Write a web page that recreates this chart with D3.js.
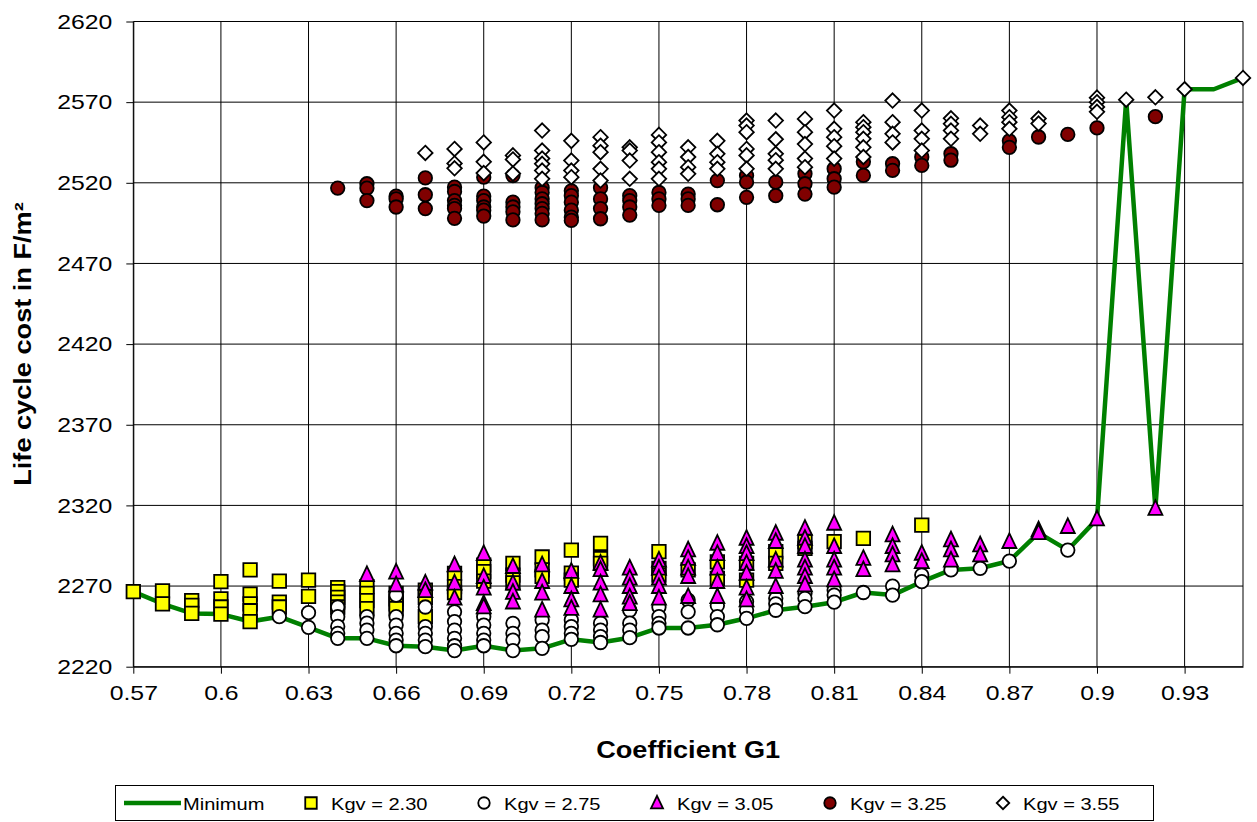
<!DOCTYPE html>
<html>
<head>
<meta charset="utf-8">
<script src="https://cdn.jsdelivr.net/npm/d3@7"></script>
<style>
  html, body { margin: 0; padding: 0; background: #fff; }
  svg { display: block; font-family: "Liberation Sans", Arial, sans-serif; }
</style>
</head>
<body>
<svg id="chart" width="1257" height="822"></svg>
<script>
// Tick values and labels
const xTicks = [0.57, 0.60, 0.63, 0.66, 0.69, 0.72, 0.75, 0.78, 0.81, 0.84, 0.87, 0.90, 0.93];
const xTickLabels = ["0.57", "0.6", "0.63", "0.66", "0.69", "0.72", "0.75", "0.78", "0.81", "0.84", "0.87", "0.9", "0.93"];
const yTicks = [2220, 2270, 2320, 2370, 2420, 2470, 2520, 2570, 2620];

// Minimum life cycle cost for each G1
const minG1 = [0.57, 0.58, 0.59, 0.60, 0.61, 0.62, 0.63, 0.64, 0.65, 0.66, 0.67, 0.68, 0.69, 0.70, 0.71, 0.72, 0.73, 0.74, 0.75,
  0.76, 0.77, 0.78, 0.79, 0.80, 0.81, 0.82, 0.83, 0.84, 0.85, 0.86, 0.87, 0.88, 0.89, 0.90, 0.91, 0.92, 0.93, 0.94, 0.95];
const minCost = [2266.5, 2259, 2253, 2252.6, 2248, 2251, 2244.4, 2237.6, 2237.6, 2233, 2232.4, 2230, 2233, 2230, 2231.4, 2237, 2235, 2238, 2244,
  2244, 2246, 2250, 2255, 2257.2, 2260, 2266, 2264.4, 2272.7, 2280, 2281, 2285.5, 2303, 2292.3, 2311.5, 2571.5, 2318, 2578, 2578, 2585];

// Kgv = 2.30 : [G1, costs]
const kgv230 = [
  [0.57, [2266.5]], [0.58, [2267, 2259]], [0.59, [2261, 2258, 2253]], [0.60, [2272.7, 2262, 2257, 2252.6]],
  [0.61, [2280, 2265, 2259, 2254.7, 2248]], [0.62, [2273, 2260, 2257]], [0.63, [2273.7, 2263.6]],
  [0.64, [2269, 2266.5, 2263, 2260, 2257]], [0.65, [2269.6, 2265.5, 2261, 2256]], [0.66, [2265.5, 2262, 2259, 2256]],
  [0.67, [2267.5, 2263, 2251]], [0.68, [2277.8, 2269.6, 2266]], [0.69, [2283, 2279, 2273]], [0.70, [2284, 2276.8, 2272]],
  [0.71, [2288, 2280, 2276]], [0.72, [2292.3, 2278, 2273.7]], [0.73, [2296.4, 2287, 2284]], [0.75, [2291.3, 2281, 2276.8]],
  [0.76, [2280]], [0.77, [2285, 2274.8]], [0.78, [2284, 2273.7]], [0.79, [2291.3, 2284]], [0.80, [2297.5, 2293.3]],
  [0.81, [2297.5]], [0.82, [2299.5]], [0.84, [2307.8]]
];

// Kgv = 2.75
const kgv275 = [
  [0.62, [2251]], [0.63, [2253.5, 2244.4]], [0.64, [2257, 2251, 2245, 2240.7, 2237.6]], [0.65, [2251, 2247, 2242.7, 2237.6]],
  [0.66, [2264.4, 2251, 2245.8, 2240.7, 2236.5, 2233]], [0.67, [2257, 2244.8, 2240.7, 2236.5, 2232.4]],
  [0.68, [2254, 2248, 2242.7, 2237.6, 2233, 2230]], [0.69, [2251, 2245.8, 2240.7, 2236.5, 2233]],
  [0.70, [2246.9, 2240.7, 2236.5, 2230]], [0.71, [2249, 2242.7, 2238.6, 2231.4]], [0.72, [2249, 2244.8, 2240.7, 2237]],
  [0.73, [2247, 2242.7, 2238.6, 2235]], [0.74, [2255, 2247, 2242.7, 2238]], [0.75, [2257, 2251, 2246.9, 2244]],
  [0.76, [2261.3, 2254, 2244]], [0.77, [2258, 2251, 2246]], [0.78, [2260.3, 2255, 2250]], [0.79, [2262.4, 2259, 2255]],
  [0.80, [2265.5, 2262.4, 2257.2]], [0.81, [2267.5, 2264.4, 2260]], [0.82, [2266]], [0.83, [2270, 2264.4]],
  [0.84, [2276.8, 2272.7]], [0.85, [2280]], [0.86, [2281]], [0.87, [2285.5]], [0.89, [2292.3]]
];

// Kgv = 3.05
const kgv305 = [
  [0.65, [2277]], [0.66, [2278.5, 2270.6]], [0.67, [2271.7, 2267]], [0.68, [2283, 2271.7, 2262.4]],
  [0.69, [2290, 2275.8, 2268.6, 2259, 2257]], [0.70, [2282, 2271.7, 2266, 2260]], [0.71, [2283, 2272.7, 2265.5, 2255]],
  [0.72, [2279, 2269.6, 2261.3, 2256]], [0.73, [2284, 2280, 2271.7, 2264.4, 2255]], [0.74, [2281, 2274.8, 2269.6, 2263, 2259]],
  [0.75, [2286, 2281, 2274.8, 2269.6, 2262.4]], [0.76, [2292.3, 2287, 2281, 2275.8, 2263.4]],
  [0.77, [2296.4, 2290, 2281, 2272.7, 2263.4]], [0.78, [2299.5, 2294.4, 2290, 2284, 2277.8, 2268.6, 2261.3]],
  [0.79, [2302.6, 2297.5, 2286, 2279, 2269.6]], [0.80, [2305.7, 2299.5, 2294.4, 2286, 2281, 2275.8, 2270.6]],
  [0.81, [2308.8, 2294.4, 2286, 2281, 2273.7]], [0.82, [2287, 2280]], [0.83, [2301.6, 2294.4, 2289.2, 2283]],
  [0.84, [2290.2, 2285]], [0.85, [2298.5, 2292.3, 2286]], [0.86, [2295.4, 2289.2]], [0.87, [2297.5]],
  [0.88, [2304.7, 2303]], [0.89, [2306.8]], [0.90, [2311.5]], [0.92, [2318]]
];

// Kgv = 3.25
const kgv325 = [
  [0.64, [2516.7]], [0.65, [2519.4, 2516.7, 2509]], [0.66, [2511.7, 2510, 2505]], [0.67, [2523, 2512.6, 2504]],
  [0.68, [2517.3, 2514.6, 2509, 2506, 2504, 2498]], [0.69, [2523.5, 2511.7, 2509, 2505, 2503, 2499.4]],
  [0.70, [2524.5, 2508, 2505, 2502, 2497]], [0.71, [2517, 2514, 2510, 2507, 2504, 2501, 2497]],
  [0.72, [2515, 2512, 2508, 2503, 2498.7, 2496.7]], [0.73, [2517, 2510, 2504, 2497.7]], [0.74, [2512, 2509, 2505, 2500]],
  [0.75, [2514, 2510, 2506]], [0.76, [2513, 2510, 2506]], [0.77, [2521.4, 2506.4]], [0.78, [2524.5, 2520.4, 2511]],
  [0.79, [2520.4, 2512]], [0.80, [2525.6, 2519.4, 2513]], [0.81, [2528.7, 2522.5, 2517.3]], [0.82, [2533, 2524.6]],
  [0.83, [2531.8, 2527.7]], [0.84, [2536, 2530.8]], [0.85, [2538, 2534]], [0.87, [2546, 2542]], [0.88, [2548.4]],
  [0.89, [2550]], [0.90, [2554]], [0.92, [2561]]
];

// Kgv = 3.55
const kgv355 = [
  [0.67, [2538.5]], [0.68, [2541, 2532, 2529]], [0.69, [2545, 2533, 2526]], [0.70, [2537, 2534.5, 2525.7]],
  [0.71, [2552.4, 2540, 2535, 2531.8, 2527.6, 2522.5]], [0.72, [2546, 2533.8, 2527.6, 2523.5]],
  [0.73, [2548.3, 2543, 2539, 2528.7, 2521.4]], [0.74, [2542, 2540, 2533.8, 2522.5]],
  [0.75, [2549.7, 2545, 2539, 2532.8, 2528.7, 2522.5]], [0.76, [2542, 2536, 2529.7, 2525.6]],
  [0.77, [2546, 2538, 2532.8, 2528.7]], [0.78, [2558.6, 2555.5, 2551.4, 2541, 2537, 2528.7]],
  [0.79, [2558.6, 2547, 2538, 2534, 2528.7]], [0.80, [2559.6, 2551.4, 2544, 2535, 2529.7]],
  [0.81, [2564.8, 2553.5, 2548.3, 2542.7, 2535]], [0.82, [2557.6, 2554.5, 2551.4, 2547.3, 2542, 2536]],
  [0.83, [2571, 2557.6, 2550.4, 2545]], [0.84, [2564.8, 2552.4, 2547.3, 2540]], [0.85, [2560, 2556.6, 2552.4, 2547.3]],
  [0.86, [2555.5, 2550.4]], [0.87, [2564.8, 2560.7, 2557.6, 2553.5]], [0.88, [2559.8, 2556.7]],
  [0.90, [2572.8, 2570, 2567, 2564]], [0.91, [2571.5]], [0.92, [2573]], [0.93, [2578]], [0.95, [2585]]
];

// Marker shapes (path generators centred on 0,0)
const shapes = {
  square: s => `M${-s / 2},${-s / 2}h${s}v${s}h${-s}Z`,
  circle: s => { const r = s / 2; return `M${r},0A${r},${r} 0 1,1 ${-r},0A${r},${r} 0 1,1 ${r},0Z`; },
  triangle: s => `M0,${-s * 0.6}L${s / 2},${s * 0.45}L${-s / 2},${s * 0.45}Z`,
  diamond: s => `M0,${-s / 2}L${s / 2},0L0,${s / 2}L${-s / 2},0Z`
};

const series = [
  { name: "Kgv = 2.30", data: kgv230, shape: "square", fill: "#FFFF00", size: 13.5 },
  { name: "Kgv = 2.75", data: kgv275, shape: "circle", fill: "#FFFFFF", size: 13.5 },
  { name: "Kgv = 3.05", data: kgv305, shape: "triangle", fill: "#FF00FF", size: 14 },
  { name: "Kgv = 3.25", data: kgv325, shape: "circle", fill: "#800000", size: 13.5 },
  { name: "Kgv = 3.55", data: kgv355, shape: "diamond", fill: "#FFFFFF", size: 14.5 }
];

// Widen glyphs slightly along the text direction
const WIDEN = 1.18;
function widen(sel) {
  sel.each(function () {
    const len = this.getComputedTextLength();
    d3.select(this).attr("textLength", len * WIDEN).attr("lengthAdjust", "spacingAndGlyphs");
  });
}

const svg = d3.select("#chart");
svg.append("rect").attr("width", 1257).attr("height", 822).attr("fill", "#fff");

const plot = { left: 133.3, right: 1243, top: 21.5, bottom: 666.7 };
const x = d3.scaleLinear().domain([0.57, 0.95]).range([plot.left, plot.right]);
const y = d3.scaleLinear().domain([2220, 2620]).range([plot.bottom, plot.top]);

// Gridlines
const grid = svg.append("g").attr("stroke", "#000").attr("stroke-width", 1);
yTicks.forEach(v => grid.append("line").attr("x1", plot.left).attr("x2", plot.right).attr("y1", y(v)).attr("y2", y(v)));
xTicks.forEach(v => grid.append("line").attr("y1", plot.top).attr("y2", plot.bottom).attr("x1", x(v)).attr("x2", x(v)));
grid.append("line").attr("y1", plot.top).attr("y2", plot.bottom).attr("x1", plot.right).attr("x2", plot.right);

// Axes
const xAxis = d3.axisBottom(x).tickValues(xTicks).tickFormat((d, i) => xTickLabels[i]).tickSize(7).tickPadding(6).tickSizeOuter(0);
const yAxis = d3.axisLeft(y).tickValues(yTicks).tickFormat(d3.format("d")).tickSize(7).tickPadding(14).tickSizeOuter(0);

const gx = svg.append("g").attr("transform", `translate(0,${plot.bottom})`).call(xAxis);
const gy = svg.append("g").attr("transform", `translate(${plot.left},0)`).call(yAxis);
[gx, gy].forEach(g => {
  g.select(".domain").attr("stroke", "#000").attr("stroke-width", 1);
  g.selectAll(".tick line").attr("stroke", "#000").attr("stroke-width", 1);
  g.selectAll(".tick text").attr("fill", "#000").style("font-size", "21px")
    .style("font-family", "'Liberation Sans', Arial, sans-serif");
  widen(g.selectAll(".tick text"));
});
gx.selectAll(".tick text").attr("dy", "0.95em");

// Axis titles
svg.append("text").attr("x", (plot.left + plot.right) / 2).attr("y", 758)
  .attr("text-anchor", "middle").style("font-size", "23px").style("font-weight", "bold").text("Coefficient G1")
  .call(widen);
svg.append("text").attr("transform", "translate(31,344) rotate(-90)")
  .attr("text-anchor", "middle").style("font-size", "23px").style("font-weight", "bold").text("Life cycle cost in F/m²")
  .call(widen);

// Minimum line
const minPts = minG1.map((g, i) => [g, minCost[i]]);
svg.append("path").datum(minPts)
  .attr("fill", "none").attr("stroke", "#008000").attr("stroke-width", 4.5).attr("stroke-linejoin", "round")
  .attr("d", d3.line().x(d => x(d[0])).y(d => y(d[1])));

// Markers
series.forEach(s => {
  const pts = s.data.flatMap(([g, costs]) => costs.map(c => [g, c]));
  svg.append("g").selectAll("path").data(pts).join("path")
    .attr("transform", d => `translate(${x(d[0])},${y(d[1])})`)
    .attr("d", shapes[s.shape](s.size))
    .attr("fill", s.fill).attr("stroke", "#000").attr("stroke-width", 1.8);
});

// Legend
const legend = svg.append("g");
legend.append("rect").attr("x", 115.5).attr("y", 785.5).attr("width", 1038).attr("height", 35)
  .attr("fill", "#fff").attr("stroke", "#000").attr("stroke-width", 1);
const ly = 803;
legend.append("line").attr("x1", 124).attr("x2", 181).attr("y1", ly).attr("y2", ly)
  .attr("stroke", "#008000").attr("stroke-width", 4.5);
legend.append("text").attr("x", 183).attr("y", ly + 6.5).style("font-size", "17px").text("Minimum").call(widen);
series.forEach((s, i) => {
  const cx = 311 + i * 173;
  legend.append("path").attr("transform", `translate(${cx},${ly})`)
    .attr("d", shapes[s.shape](s.size - 2)).attr("fill", s.fill).attr("stroke", "#000").attr("stroke-width", 1.8);
  legend.append("text").attr("x", cx + 20).attr("y", ly + 6.5).style("font-size", "17px").text(s.name).call(widen);
});
</script>
</body>
</html>
